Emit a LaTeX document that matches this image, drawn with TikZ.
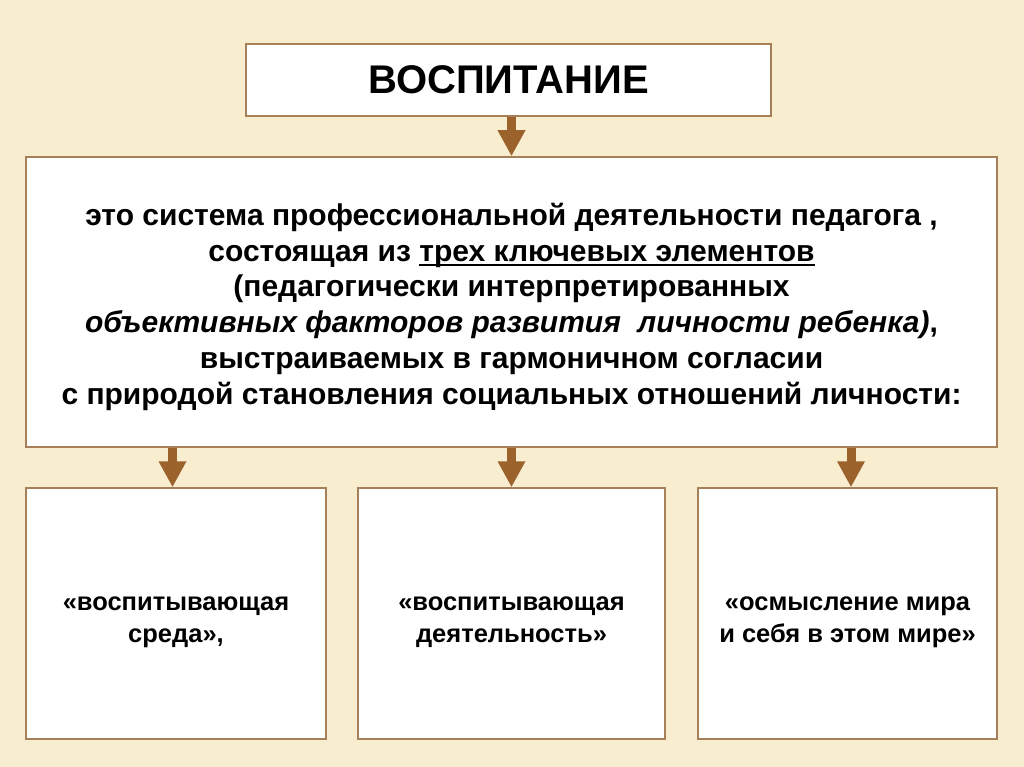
\documentclass[tikz,border=0pt]{standalone}
\usepackage{fontspec}
\setmainfont{Liberation Sans}
\usepackage{tikz}
\usetikzlibrary{arrows.meta}
\definecolor{parchment}{RGB}{249,237,208}
\definecolor{boxline}{RGB}{166,128,88}
\definecolor{arrowbrown}{RGB}{155,98,44}
\newcommand\bsz[2]{\bfseries\fontsize{#1}{#2}\selectfont}
\newcommand\uln[1]{\setbox0\hbox{#1}\rlap{\rule[-5pt]{\wd0}{2.2pt}}\box0}
\newcommand\dropby[1]{\rule{0pt}{#1}}
\tikzset{
 card/.style={draw=boxline,line width=1.5pt,fill=white,inner sep=0pt,align=center,font=\bsz{30}{35.8}},
 leaf/.style={card,minimum height=251pt,font=\bsz{25.5}{32}},
 down/.style={arrowbrown,line width=9pt,-{Triangle[width=26pt,length=26pt]}},
}

\begin{document}
\begin{tikzpicture}[x=1pt,y=-1pt]
\fill[parchment] (0,0) rectangle (1024,767);
\useasboundingbox (0,0) rectangle (1024,767);
\node[card,minimum width=525pt,minimum height=72pt,font=\bsz{40}{44}] (vosp) at (508.5,80) {ВОСПИТАНИЕ};
\node[card,minimum width=971pt,minimum height=290pt] (opr) at (511.5,302)
 {\dropby{32pt}это система профессиональной деятельности педагога ,\\
  состоящая из \uln{трех ключевых элементов}\\
  (педагогически интерпретированных\\
  \textit{объективных факторов развития\ \ личности ребенка)},\\
  выстраиваемых в гармоничном согласии\\
  с природой становления социальных отношений личности:};
\node[leaf,minimum width=300pt] (sreda) at (176,613.5) {\dropby{32pt}«воспитывающая\\ среда»,};
\node[leaf,minimum width=307pt] (dejat) at (511.5,613.5) {\dropby{32pt}«воспитывающая\\ деятельность»};
\node[leaf,minimum width=299pt] (osmysl) at (847.5,613.5) {\dropby{32pt}«осмысление мира\\ и себя в этом мире»};
\draw[down] (opr.north |- vosp.south) -- (opr.north);
\foreach \b/\dx in {sreda/-3.5,dejat/0,osmysl/3.5}
 \draw[down] ([xshift=\dx pt]opr.south -| \b.north) -- ([xshift=\dx pt]\b.north);
\end{tikzpicture}
\end{document}
